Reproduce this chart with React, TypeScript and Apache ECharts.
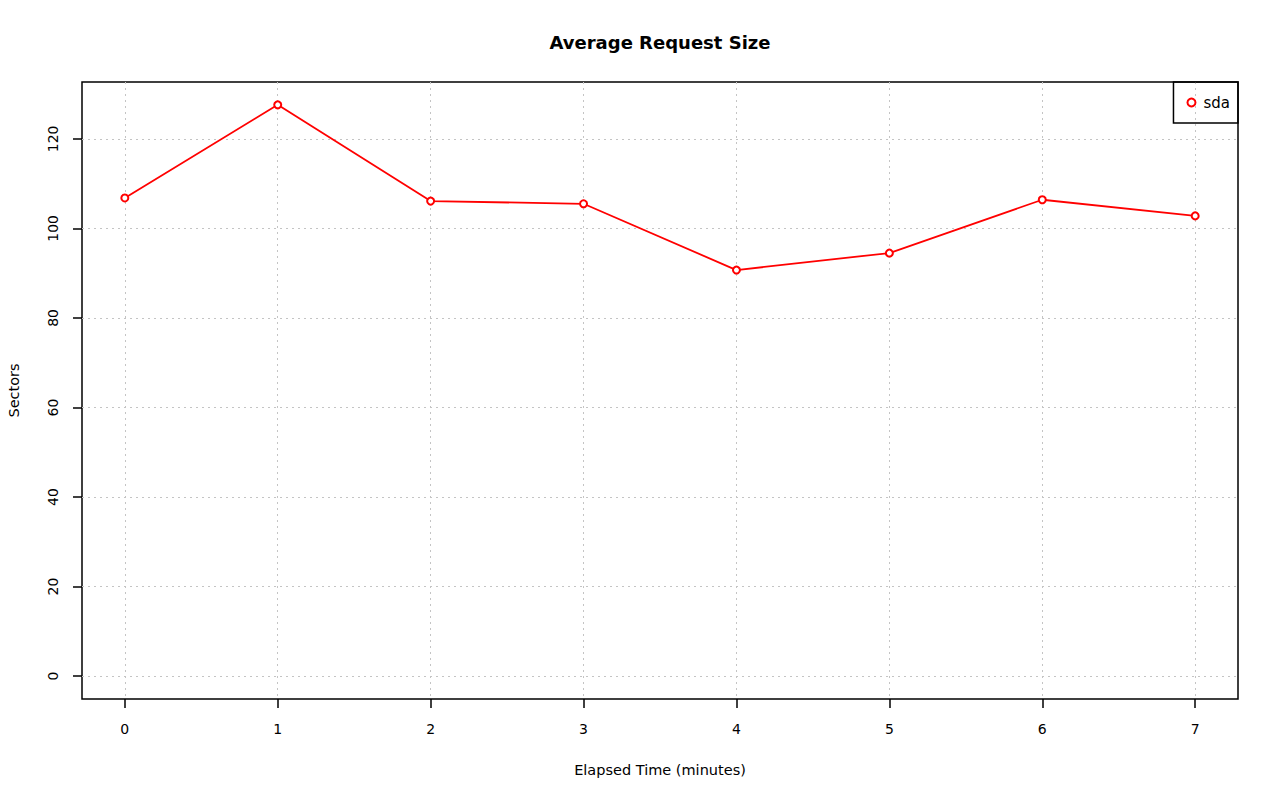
import React, { useEffect, useRef } from "react";
import * as echarts from "echarts";

const minutes = [0, 1, 2, 3, 4, 5, 6, 7];
const sda = [106.8, 127.6, 106.1, 105.5, 90.7, 94.5, 106.4, 102.8];
const xTicks = [0, 1, 2, 3, 4, 5, 6, 7];
const yTicks = [0, 20, 40, 60, 80, 100, 120];

const FONT = "DejaVu Sans, Liberation Sans, Arial, sans-serif";

export default function App() {
  const ref = useRef<HTMLDivElement>(null);
  useEffect(() => {
    const chart = echarts.init(ref.current!, null, { renderer: "svg" });
    chart.setOption({
      animation: false,
      backgroundColor: "#ffffff",
      textStyle: { fontFamily: FONT },
      title: {
        text: "Average Request Size",
        left: 655,
        textAlign: "center",
        top: 28,
        textStyle: { fontFamily: FONT, fontSize: 18, fontWeight: "bold", color: "#000" },
      },
      legend: {
        right: 42,
        top: 82,
        orient: "vertical",
        data: [{ name: "sda", icon: "circle" }],
        itemWidth: 14,
        itemHeight: 8,
        borderColor: "#000",
        borderWidth: 1.5,
        borderRadius: 0,
        padding: [13, 8, 13, 13],
        textStyle: { fontFamily: FONT, fontSize: 15, color: "#000" },
        itemStyle: { color: "#fff", borderColor: "#ff0000", borderWidth: 2 },
      },
      grid: {
        left: 82,
        right: 42,
        top: 82,
        bottom: 102,
        outerBoundsMode: "none",
        containLabel: false,
        show: true,
        borderColor: "#000",
        borderWidth: 1.5,
        backgroundColor: "transparent",
      },
      xAxis: {
        type: "value",
        min: -0.28,
        max: 7.28,
        name: "Elapsed Time (minutes)",
        nameLocation: "middle",
        nameGap: 63,
        nameTextStyle: { fontFamily: FONT, fontSize: 14.5, color: "#000" },
        axisLine: { show: false, onZero: false },
        axisTick: { show: true, inside: false, length: 9, lineStyle: { color: "#000", width: 1.5 }, customValues: xTicks },
        axisLabel: { customValues: xTicks, margin: 23, fontFamily: FONT, fontSize: 14, color: "#000" },
        splitLine: { show: true, lineStyle: { color: "#c4c4c4", type: [2, 4], width: 1 } },
      },
      yAxis: {
        type: "value",
        min: -5.1,
        max: 132.7,
        name: "Sectors",
        nameLocation: "middle",
        nameGap: 61,
        nameTextStyle: { fontFamily: FONT, fontSize: 14.5, color: "#000" },
        axisLine: { show: false, onZero: false },
        axisTick: { show: true, inside: false, length: 9, lineStyle: { color: "#000", width: 1.5 }, customValues: yTicks },
        axisLabel: { customValues: yTicks, rotate: 90, margin: 22, fontFamily: FONT, fontSize: 14, color: "#000" },
        splitLine: { show: true, lineStyle: { color: "#c4c4c4", type: [2, 4], width: 1 } },
      },
      series: [
        {
          name: "sda",
          type: "line",
          data: minutes.map((m, i) => [m, sda[i]]),
          symbol: "circle",
          symbolSize: 7,
          showSymbol: true,
          lineStyle: { color: "#ff0000", width: 1.8 },
          itemStyle: { color: "#ffffff", borderColor: "#ff0000", borderWidth: 2 },
        },
      ],
    });
    return () => chart.dispose();
  }, []);
  return (
    <div
      ref={ref}
      style={{ position: "absolute", left: 0, top: 0, width: 1280, height: 801 }}
    />
  );
}
